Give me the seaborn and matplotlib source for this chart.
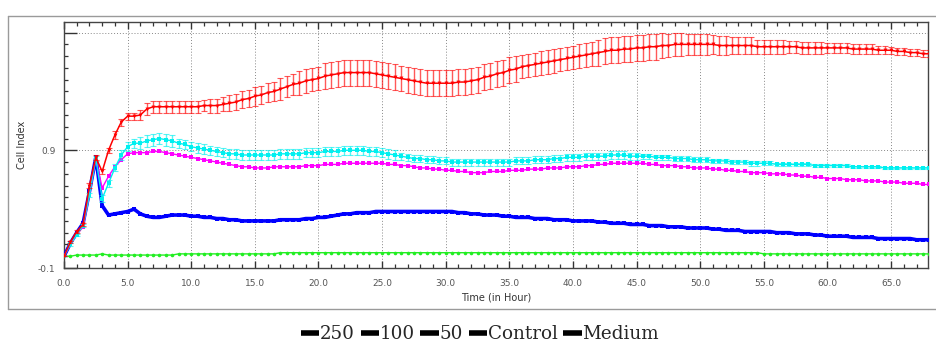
import numpy as np
import pandas as pd
import matplotlib
matplotlib.use("Agg")
import matplotlib.pyplot as plt
from matplotlib.lines import Line2D
from matplotlib.ticker import MultipleLocator, FixedLocator
import seaborn as sns

# ---------------- data ----------------
hours = np.arange(0, 68.01, 0.5)  # sampling grid (every 30 min)

ci_250 = [
    0.00, 0.12, 0.21, 0.27, 0.60, 0.84, 0.72, 0.90, 1.03, 1.14,
    1.19, 1.19, 1.20, 1.25, 1.27, 1.27, 1.27, 1.27, 1.27, 1.27,
    1.27, 1.27, 1.28, 1.28, 1.28, 1.29, 1.30, 1.31, 1.33, 1.34,
    1.36, 1.37, 1.39, 1.40, 1.42, 1.44, 1.46, 1.47, 1.49, 1.50,
    1.51, 1.53, 1.54, 1.55, 1.56, 1.56, 1.56, 1.56, 1.56, 1.55,
    1.54, 1.53, 1.52, 1.51, 1.50, 1.49, 1.48, 1.47, 1.47, 1.47,
    1.47, 1.47, 1.48, 1.48, 1.49, 1.50, 1.52, 1.53, 1.55, 1.56,
    1.58, 1.59, 1.61, 1.62, 1.63, 1.64, 1.65, 1.66, 1.67, 1.68,
    1.69, 1.70, 1.71, 1.72, 1.73, 1.74, 1.75, 1.75, 1.76, 1.76,
    1.77, 1.77, 1.78, 1.78, 1.79, 1.79, 1.80, 1.80, 1.80, 1.80,
    1.80, 1.80, 1.80, 1.79, 1.79, 1.79, 1.79, 1.79, 1.79, 1.78,
    1.78, 1.78, 1.78, 1.78, 1.78, 1.78, 1.77, 1.77, 1.77, 1.77,
    1.77, 1.77, 1.77, 1.77, 1.76, 1.76, 1.76, 1.76, 1.75, 1.75,
    1.75, 1.74, 1.74, 1.73, 1.73, 1.72, 1.72]
err_250 = [
    0.00, 0.01, 0.01, 0.01, 0.02, 0.02, 0.02, 0.02, 0.03, 0.03,
    0.03, 0.03, 0.04, 0.05, 0.05, 0.05, 0.05, 0.05, 0.05, 0.05,
    0.05, 0.05, 0.05, 0.06, 0.06, 0.06, 0.07, 0.07, 0.07, 0.07,
    0.08, 0.08, 0.08, 0.08, 0.09, 0.09, 0.09, 0.10, 0.10, 0.10,
    0.10, 0.11, 0.11, 0.11, 0.11, 0.11, 0.11, 0.11, 0.11, 0.11,
    0.11, 0.11, 0.11, 0.11, 0.11, 0.11, 0.11, 0.11, 0.11, 0.11,
    0.11, 0.11, 0.11, 0.11, 0.11, 0.11, 0.11, 0.11, 0.11, 0.11,
    0.11, 0.11, 0.10, 0.10, 0.10, 0.10, 0.10, 0.10, 0.10, 0.10,
    0.10, 0.10, 0.10, 0.10, 0.11, 0.11, 0.11, 0.11, 0.11, 0.11,
    0.11, 0.11, 0.11, 0.11, 0.11, 0.10, 0.10, 0.10, 0.09, 0.09,
    0.09, 0.09, 0.08, 0.08, 0.08, 0.07, 0.07, 0.07, 0.07, 0.06,
    0.06, 0.06, 0.06, 0.06, 0.05, 0.05, 0.05, 0.05, 0.05, 0.05,
    0.04, 0.04, 0.04, 0.04, 0.04, 0.04, 0.04, 0.04, 0.035, 0.035,
    0.03, 0.03, 0.03, 0.03, 0.03, 0.03, 0.03]

ci_100 = [
    0.00, 0.10, 0.18, 0.26, 0.52, 0.83, 0.49, 0.62, 0.75, 0.86,
    0.93, 0.96, 0.96, 0.98, 0.99, 1.00, 0.99, 0.98, 0.96, 0.95,
    0.93, 0.92, 0.91, 0.90, 0.89, 0.88, 0.87, 0.87, 0.86, 0.86,
    0.86, 0.86, 0.86, 0.86, 0.87, 0.87, 0.87, 0.87, 0.88, 0.88,
    0.88, 0.89, 0.89, 0.89, 0.90, 0.90, 0.90, 0.90, 0.89, 0.89,
    0.88, 0.87, 0.86, 0.85, 0.84, 0.83, 0.83, 0.82, 0.82, 0.81,
    0.81, 0.80, 0.80, 0.80, 0.80, 0.80, 0.80, 0.80, 0.80, 0.80,
    0.80, 0.81, 0.81, 0.81, 0.82, 0.82, 0.82, 0.83, 0.83, 0.84,
    0.84, 0.84, 0.85, 0.85, 0.85, 0.85, 0.86, 0.86, 0.86, 0.85,
    0.85, 0.85, 0.85, 0.84, 0.84, 0.84, 0.83, 0.83, 0.83, 0.82,
    0.82, 0.82, 0.81, 0.81, 0.81, 0.80, 0.80, 0.80, 0.79, 0.79,
    0.79, 0.79, 0.78, 0.78, 0.78, 0.78, 0.78, 0.78, 0.77, 0.77,
    0.77, 0.77, 0.77, 0.77, 0.76, 0.76, 0.76, 0.76, 0.76, 0.75,
    0.75, 0.75, 0.75, 0.75, 0.75, 0.75, 0.75]
err_100 = [
    0.00, 0.01, 0.01, 0.01, 0.02, 0.02, 0.03, 0.03, 0.03, 0.04,
    0.04, 0.04, 0.05, 0.05, 0.05, 0.05, 0.05, 0.05, 0.04, 0.04,
    0.04, 0.04, 0.04, 0.04, 0.04, 0.04, 0.04, 0.04, 0.04, 0.04,
    0.04, 0.04, 0.04, 0.04, 0.04, 0.04, 0.04, 0.04, 0.04, 0.04,
    0.04, 0.04, 0.04, 0.04, 0.04, 0.04, 0.04, 0.04, 0.04, 0.04,
    0.04, 0.04, 0.04, 0.03, 0.03, 0.03, 0.03, 0.03, 0.03, 0.03,
    0.03, 0.03, 0.03, 0.03, 0.03, 0.03, 0.03, 0.03, 0.03, 0.03,
    0.03, 0.03, 0.03, 0.03, 0.03, 0.03, 0.03, 0.03, 0.03, 0.03,
    0.03, 0.03, 0.03, 0.03, 0.03, 0.03, 0.03, 0.03, 0.03, 0.03,
    0.03, 0.02, 0.02, 0.02, 0.02, 0.02, 0.02, 0.02, 0.02, 0.02,
    0.02, 0.02, 0.02, 0.02, 0.02, 0.02, 0.02, 0.02, 0.02, 0.02,
    0.015, 0.015, 0.015, 0.015, 0.015, 0.015, 0.015, 0.015, 0.015, 0.015,
    0.01, 0.01, 0.01, 0.01, 0.01, 0.01, 0.01, 0.01, 0.01, 0.01,
    0.01, 0.01, 0.01, 0.01, 0.01, 0.01, 0.01]

ci_50 = [
    0.00, 0.10, 0.18, 0.25, 0.52, 0.83, 0.58, 0.68, 0.76, 0.82,
    0.87, 0.88, 0.88, 0.88, 0.89, 0.89, 0.88, 0.87, 0.86, 0.85,
    0.84, 0.83, 0.82, 0.81, 0.80, 0.79, 0.78, 0.77, 0.76, 0.76,
    0.75, 0.75, 0.75, 0.76, 0.76, 0.76, 0.76, 0.76, 0.77, 0.77,
    0.77, 0.78, 0.78, 0.78, 0.79, 0.79, 0.79, 0.79, 0.79, 0.79,
    0.79, 0.78, 0.78, 0.77, 0.77, 0.76, 0.75, 0.75, 0.74, 0.74,
    0.73, 0.73, 0.72, 0.72, 0.71, 0.71, 0.71, 0.72, 0.72, 0.72,
    0.73, 0.73, 0.73, 0.74, 0.74, 0.74, 0.75, 0.75, 0.75, 0.76,
    0.76, 0.76, 0.77, 0.77, 0.78, 0.78, 0.79, 0.79, 0.79, 0.79,
    0.79, 0.79, 0.78, 0.78, 0.77, 0.77, 0.77, 0.76, 0.76, 0.75,
    0.75, 0.75, 0.74, 0.74, 0.73, 0.73, 0.72, 0.72, 0.71, 0.71,
    0.71, 0.70, 0.70, 0.70, 0.69, 0.69, 0.68, 0.68, 0.67, 0.67,
    0.66, 0.66, 0.66, 0.65, 0.65, 0.65, 0.64, 0.64, 0.64, 0.63,
    0.63, 0.63, 0.62, 0.62, 0.62, 0.61, 0.61]

ci_control = [
    0.00, 0.11, 0.20, 0.28, 0.55, 0.84, 0.43, 0.35, 0.36, 0.37,
    0.38, 0.40, 0.36, 0.34, 0.33, 0.33, 0.34, 0.35, 0.35, 0.35,
    0.34, 0.34, 0.33, 0.33, 0.32, 0.32, 0.31, 0.31, 0.30, 0.30,
    0.30, 0.30, 0.30, 0.30, 0.31, 0.31, 0.31, 0.31, 0.32, 0.32,
    0.33, 0.33, 0.34, 0.35, 0.36, 0.36, 0.37, 0.37, 0.37, 0.38,
    0.38, 0.38, 0.38, 0.38, 0.38, 0.38, 0.38, 0.38, 0.38, 0.38,
    0.38, 0.38, 0.37, 0.37, 0.36, 0.36, 0.35, 0.35, 0.35, 0.34,
    0.34, 0.33, 0.33, 0.33, 0.32, 0.32, 0.32, 0.31, 0.31, 0.31,
    0.30, 0.30, 0.30, 0.30, 0.29, 0.29, 0.28, 0.28, 0.28, 0.27,
    0.27, 0.27, 0.26, 0.26, 0.26, 0.25, 0.25, 0.25, 0.24, 0.24,
    0.24, 0.24, 0.23, 0.23, 0.22, 0.22, 0.22, 0.21, 0.21, 0.21,
    0.21, 0.21, 0.20, 0.20, 0.20, 0.19, 0.19, 0.19, 0.18, 0.18,
    0.17, 0.17, 0.17, 0.17, 0.16, 0.16, 0.16, 0.16, 0.15, 0.15,
    0.15, 0.15, 0.15, 0.15, 0.14, 0.14, 0.14]

ci_medium = [
    0.00, 0.00, 0.01, 0.01, 0.01, 0.01, 0.02, 0.01, 0.01, 0.01,
    0.01, 0.01, 0.01, 0.01, 0.01, 0.01, 0.01, 0.01, 0.02, 0.02,
    0.02, 0.02, 0.02, 0.02, 0.02, 0.02, 0.02, 0.02, 0.02, 0.02,
    0.02, 0.02, 0.02, 0.02, 0.03, 0.03, 0.03, 0.03, 0.03, 0.03,
    0.03, 0.03, 0.03, 0.03, 0.03, 0.03, 0.03, 0.03, 0.03, 0.03,
    0.03, 0.03, 0.03, 0.03, 0.03, 0.03, 0.03, 0.03, 0.03, 0.03,
    0.03, 0.03, 0.03, 0.03, 0.03, 0.03, 0.03, 0.03, 0.03, 0.03,
    0.03, 0.03, 0.03, 0.03, 0.03, 0.03, 0.03, 0.03, 0.03, 0.03,
    0.03, 0.03, 0.03, 0.03, 0.03, 0.03, 0.03, 0.03, 0.03, 0.03,
    0.03, 0.03, 0.03, 0.03, 0.03, 0.03, 0.03, 0.03, 0.03, 0.03,
    0.03, 0.03, 0.03, 0.03, 0.03, 0.03, 0.03, 0.03, 0.03, 0.03,
    0.02, 0.02, 0.02, 0.02, 0.02, 0.02, 0.02, 0.02, 0.02, 0.02,
    0.02, 0.02, 0.02, 0.02, 0.02, 0.02, 0.02, 0.02, 0.02, 0.02,
    0.02, 0.02, 0.02, 0.02, 0.02, 0.02, 0.02]

series_names = ["250", "100", "50", "Control", "Medium"]
x_tick_values = [0, 5, 10, 15, 20, 25, 30, 35, 40, 45, 50, 55, 60, 65]
x_tick_labels = ["0.0", "5.0", "10.0", "15.0", "20.0", "25.0", "30.0",
                 "35.0", "40.0", "45.0", "50.0", "55.0", "60.0", "65.0"]
y_tick_values = [-0.1, 0.9, 1.9]
y_tick_labels = ["-0.1", "0.9", ""]

# ---------------- styling ----------------
sns.set_theme(style="white")
plt.rcParams["font.family"] = ["DejaVu Sans"]

colors = {"250": "#ff0000", "100": "#00f0f0", "50": "#ff00ff",
          "Control": "#0000ff", "Medium": "#22ee22"}
markers = {"250": "v", "100": "s", "50": "s", "Control": "s", "Medium": "o"}
lws = {"250": 1.1, "100": 1.0, "50": 1.0, "Control": 2.6, "Medium": 1.0}
msz = {"250": 2.8, "100": 2.6, "50": 2.4, "Control": 2.8, "Medium": 2.6}

values = {"250": ci_250, "100": ci_100, "50": ci_50,
          "Control": ci_control, "Medium": ci_medium}
errors = {"250": err_250, "100": err_100}

frames = []
for name in series_names:
    frames.append(pd.DataFrame({"Time": hours, "CI": values[name], "Series": name}))
df = pd.concat(frames, ignore_index=True)

fig = plt.figure(figsize=(9.36, 3.43), dpi=100)
W, H = 936, 343
ax = fig.add_axes([64 / W, 1 - 268 / H, (928 - 64) / W, (268 - 22) / H])

# outer light frame
fig.add_artist(Line2D([8 / W, 1.0], [1 - 16 / H, 1 - 16 / H], color="#9a9a9a", lw=1.0))
fig.add_artist(Line2D([8 / W, 1.0], [1 - 309 / H, 1 - 309 / H], color="#9a9a9a", lw=1.0))
fig.add_artist(Line2D([8 / W, 8 / W], [1 - 16 / H, 1 - 309 / H], color="#9a9a9a", lw=1.0))

draw_order = ["Medium", "Control", "50", "100", "250"]
for z, name in enumerate(draw_order):
    sub = df[df["Series"] == name]
    if name in errors:
        ax.errorbar(sub["Time"], sub["CI"], yerr=errors[name], fmt="none",
                    ecolor=colors[name], elinewidth=1.0, capsize=2.3,
                    capthick=0.8, alpha=0.65, zorder=2 + z)
    sns.lineplot(data=sub, x="Time", y="CI", ax=ax, color=colors[name],
                 lw=lws[name], marker=markers[name], markersize=msz[name],
                 markeredgewidth=0, legend=False, zorder=3 + z,
                 estimator=None, sort=False)

ax.set_xlim(0, 67.9)
ax.set_ylim(-0.1, 1.99)

ax.xaxis.set_major_locator(FixedLocator(x_tick_values))
ax.set_xticklabels(x_tick_labels)
ax.xaxis.set_minor_locator(MultipleLocator(1))
ax.yaxis.set_major_locator(FixedLocator(y_tick_values))
ax.set_yticklabels(y_tick_labels)
ax.yaxis.set_minor_locator(MultipleLocator(0.1))

ax.tick_params(axis="x", which="both", direction="in", top=True, bottom=True,
               color="#333333", labelsize=6.5, labelcolor="#555555", pad=8)
ax.tick_params(axis="x", which="major", length=5, width=1.0)
ax.tick_params(axis="x", which="minor", length=3, width=0.9)
ax.tick_params(axis="y", which="both", direction="in", left=True, right=False,
               color="#333333", labelsize=6.5, labelcolor="#555555", pad=6)
ax.tick_params(axis="y", which="major", length=9, width=1.0)
ax.tick_params(axis="y", which="minor", length=3, width=0.9)

ax.grid(True, which="major", axis="both", color="#888888", ls=(0, (1, 2)), lw=0.7)
for s in ax.spines.values():
    s.set_color("#444444")
    s.set_linewidth(1.0)

ax.set_xlabel("Time (in Hour)", fontsize=7, color="#333333", labelpad=3)
ax.set_ylabel("Cell Index", fontsize=7, color="#333333", labelpad=8)

handles = [Line2D([0], [0], color="black", lw=4, solid_capstyle="butt")
           for _ in series_names]
leg = fig.legend(handles, series_names, loc="center", ncol=5,
                 bbox_to_anchor=(480 / W, 1 - 334 / H), frameon=False,
                 handlelength=1.0, handletextpad=0.05, columnspacing=0.3,
                 prop={"family": "DejaVu Serif", "size": 13.2},
                 borderpad=0, borderaxespad=0)

fig.savefig("out.png", dpi=100)
